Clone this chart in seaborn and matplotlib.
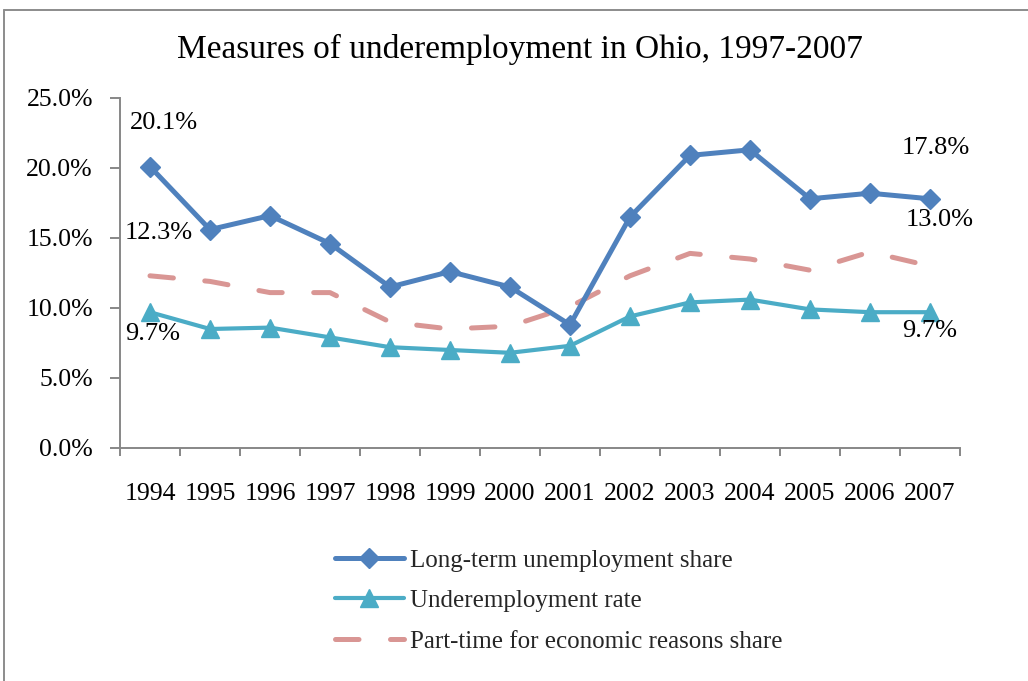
import matplotlib
matplotlib.use("Agg")
import matplotlib.pyplot as plt
from matplotlib.lines import Line2D
from matplotlib.ticker import FixedLocator, FuncFormatter
import seaborn as sns
import numpy as np

# ---- data ----
years = [1994, 1995, 1996, 1997, 1998, 1999, 2000, 2001, 2002, 2003, 2004, 2005, 2006, 2007]
long_term = [20.1, 15.6, 16.6, 14.6, 11.5, 12.6, 11.5, 8.8, 16.5, 20.9, 21.3, 17.8, 18.2, 17.8]
underemp = [9.7, 8.5, 8.6, 7.9, 7.2, 7.0, 6.8, 7.3, 9.4, 10.4, 10.6, 9.9, 9.7, 9.7]
part_time = [12.3, 11.9, 11.1, 11.1, 9.0, 8.5, 8.7, 10.1, 12.3, 13.9, 13.5, 12.7, 14.0, 13.0]
series_names = ["Long-term unemployment share", "Underemployment rate",
                "Part-time for economic reasons share"]
title = "Measures of underemployment in Ohio, 1997-2007"
y_ticks = [0, 5, 10, 15, 20, 25]

sns.set_theme(style="white")
plt.rcParams["font.family"] = ["Liberation Serif", "DejaVu Serif"]

W, H = 1028, 681
fig = plt.figure(figsize=(W / 100, H / 100), dpi=100)
ax = fig.add_axes([120 / W, 1 - 448 / H, 840 / W, 350 / H])

idx = np.arange(len(years))
c_blue, c_teal, c_pink = "#4F81BD", "#4BACC6", "#D99694"

sns.lineplot(x=idx, y=long_term, ax=ax, color=c_blue, linewidth=3.6,
             marker="D", markersize=10, markeredgecolor=c_blue,
             markeredgewidth=1, label=series_names[0], zorder=4)
sns.lineplot(x=idx, y=underemp, ax=ax, color=c_teal, linewidth=3.0,
             marker="^", markersize=13, markeredgecolor=c_teal,
             markeredgewidth=1, label=series_names[1], zorder=3)
sns.lineplot(x=idx, y=part_time, ax=ax, color=c_pink, linewidth=3.6,
             linestyle=(0, (4.7, 6.3)), dash_capstyle="round",
             label=series_names[2], zorder=2)

ax.set_xlim(-0.5, len(years) - 0.5)
ax.set_ylim(0, 25)
ax.set_xlabel("")
ax.set_ylabel("")

axis_gray = "#878787"
for s in ["top", "right"]:
    ax.spines[s].set_visible(False)
for s in ["left", "bottom"]:
    ax.spines[s].set_color(axis_gray)
    ax.spines[s].set_linewidth(1.4)

ax.set_xticks(idx)
ax.set_xticklabels([str(y) for y in years])
ax.xaxis.set_minor_locator(FixedLocator(np.arange(-0.5, len(years), 1.0)))
ax.tick_params(axis="x", which="major", length=0, pad=25.5, labelsize=18.5, labelcolor="black")
ax.tick_params(axis="x", which="minor", length=6, width=1.4, color=axis_gray, direction="out", bottom=True)
ax.set_yticks(y_ticks)
ax.yaxis.set_major_formatter(FuncFormatter(lambda v, p: f"{v:.1f}%"))
ax.tick_params(axis="y", which="major", length=7, width=1.4, color=axis_gray,
               direction="out", left=True, pad=12.5, labelsize=18.5, labelcolor="black")
ax.grid(False)

# data labels at first and last points
def lab(series, i, dx, dy):
    ax.annotate(f"{series[i]:.1f}%", xy=(idx[i], series[i]), xytext=(dx, dy),
                textcoords="offset points", ha="center", va="baseline",
                fontsize=19, color="black", zorder=6)

last = len(years) - 1
lab(long_term, 0, 10, 27)
lab(part_time, 0, 6.5, 26.4)
lab(underemp, 0, 1.8, -19.7)
lab(long_term, last, 4.3, 31.9)
lab(part_time, last, 6.8, 28.8)
lab(underemp, last, 0, -18.2)

# legend
handles, labels = ax.get_legend_handles_labels()
ax.legend(handles, labels, loc="upper left", bbox_to_anchor=(335 / W, 1 - 549 / H),
          bbox_transform=fig.transFigure, frameon=False, borderpad=0, borderaxespad=0,
          handlelength=2.75, handletextpad=0.25, labelspacing=0.72, fontsize=18)

# title
fig.text(520 / W, 1 - 49 / H, title, ha="center", va="center", fontsize=24, color="black")

# outer chart border
border = "#8c8c8c"
fig.add_artist(Line2D([4 / W, 1], [1 - 10 / H, 1 - 10 / H], transform=fig.transFigure,
                      color=border, linewidth=1.4))
fig.add_artist(Line2D([4 / W, 4 / W], [0, 1 - 10 / H], transform=fig.transFigure,
                      color=border, linewidth=1.4))

fig.savefig("out.png", dpi=100)
